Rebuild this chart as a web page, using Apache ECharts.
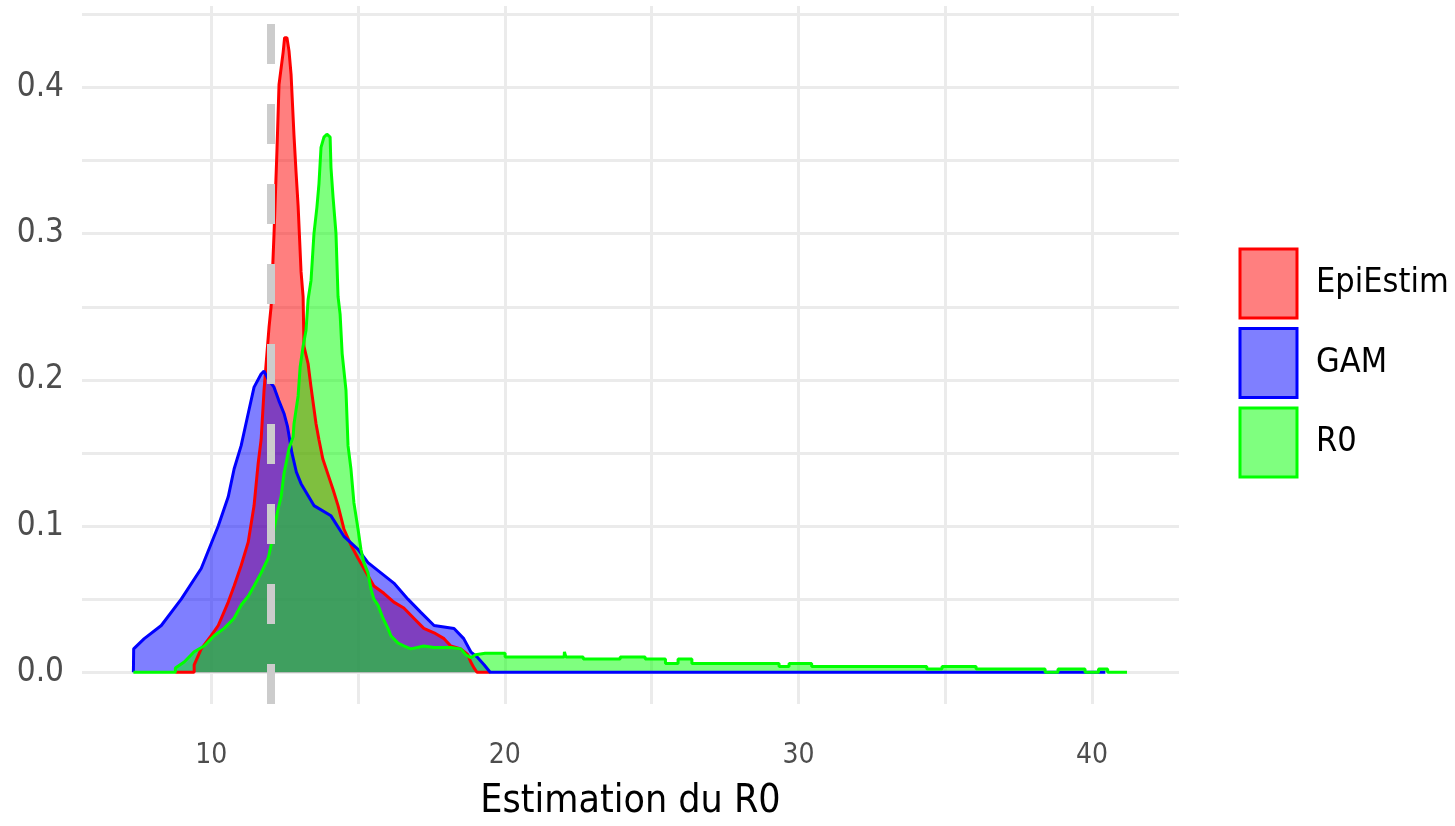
<!DOCTYPE html>
<html>
<head>
<meta charset="utf-8">
<script src="https://cdn.jsdelivr.net/npm/echarts@6/dist/echarts.min.js"></script>
<style>
  html, body { margin: 0; padding: 0; background: #fff; }
  #chart { width: 1455px; height: 826px; }
</style>
</head>
<body>
<div id="chart"></div>
<script>
// density estimates, [R0, density]
var epiEstim = [[8.78,0],[9.42,0],[9.42,0.005],[9.66,0.016],[10.0,0.025],[10.24,0.032],[10.58,0.048],[10.78,0.059],
  [11.02,0.073],[11.26,0.089],[11.46,0.114],[11.6,0.143],[11.7,0.159],[11.8,0.193],[11.87,0.211],[11.97,0.236],
  [12.04,0.25],[12.14,0.30],[12.24,0.357],[12.31,0.402],[12.45,0.424],[12.5,0.434],[12.58,0.434],[12.65,0.425],
  [12.72,0.409],[12.82,0.367],[12.89,0.342],[12.96,0.319],[13.06,0.274],[13.13,0.257],[13.16,0.223],[13.3,0.211],
  [13.4,0.195],[13.57,0.17],[13.67,0.159],[13.8,0.146],[14.0,0.134],[14.15,0.125],[14.32,0.114],[14.52,0.098],
  [14.76,0.087],[15.0,0.078],[15.34,0.066],[15.54,0.059],[15.88,0.054],[16.22,0.048],[16.56,0.044],[16.9,0.037],
  [17.24,0.03],[17.59,0.027],[17.93,0.023],[18.16,0.018],[18.5,0.016],[18.74,0.012],[18.84,0.007],[18.95,0.003],
  [19.05,0],[19.5,0]];

var gam = [[7.35,0],[7.36,0.016],[7.72,0.023],[8.3,0.032],[8.98,0.05],[9.66,0.071],[10.24,0.10],[10.58,0.12],
  [10.78,0.139],[11.02,0.155],[11.26,0.177],[11.46,0.195],[11.7,0.204],[11.8,0.206],[11.95,0.2],[12.14,0.195],
  [12.3,0.186],[12.48,0.177],[12.6,0.168],[12.75,0.15],[12.9,0.137],[13.06,0.129],[13.5,0.114],[14.08,0.107],
  [14.52,0.093],[15.0,0.084],[15.34,0.075],[15.78,0.068],[16.22,0.061],[16.7,0.05],[17.14,0.041],[17.59,0.032],
  [18.27,0.03],[18.6,0.023],[18.84,0.014],[19.08,0.01],[19.3,0.005],[19.5,0],[40.45,0]];

var r0 = [[7.35,0],[8.78,0],[8.78,0.003],[9.08,0.007],[9.42,0.014],[9.76,0.018],[10.1,0.025],[10.44,0.03],
  [10.78,0.037],[11.02,0.046],[11.26,0.052],[11.46,0.059],[11.7,0.068],[11.94,0.078],[12.04,0.087],[12.14,0.098],
  [12.28,0.112],[12.38,0.12],[12.48,0.136],[12.55,0.143],[12.65,0.153],[12.79,0.161],[12.82,0.17],[12.96,0.189],
  [13.03,0.209],[13.13,0.223],[13.23,0.234],[13.3,0.255],[13.4,0.268],[13.5,0.30],[13.6,0.318],[13.67,0.334],
  [13.74,0.359],[13.84,0.366],[13.94,0.368],[14.05,0.366],[14.08,0.345],[14.15,0.325],[14.25,0.30],[14.32,0.257],
  [14.39,0.245],[14.46,0.218],[14.59,0.193],[14.66,0.155],[14.76,0.139],[14.86,0.116],[15.0,0.098],[15.1,0.084],
  [15.2,0.075],[15.34,0.068],[15.44,0.057],[15.54,0.05],[15.68,0.046],[15.85,0.037],[16.02,0.03],[16.12,0.025],
  [16.36,0.02],[16.56,0.018],[16.8,0.016],[17.24,0.018],[17.59,0.017],[18.16,0.017],[18.5,0.016],[18.67,0.012],
  [18.84,0.01],[19.0,0.012],[19.33,0.013],[20.01,0.013],[20.01,0.0105],[22.02,0.0105],[22.03,0.014],[22.08,0.0105],
  [22.67,0.0105],[22.67,0.009],[23.93,0.009],[23.93,0.0105],[24.78,0.0105],[24.78,0.009],[25.47,0.009],
  [25.47,0.006],[25.9,0.006],[25.9,0.009],[26.37,0.009],[26.37,0.006],[29.34,0.006],[29.34,0.004],[29.68,0.004],
  [29.68,0.006],[30.45,0.006],[30.45,0.004],[34.37,0.004],[34.37,0.0022],[34.89,0.0022],[34.89,0.004],
  [36.05,0.004],[36.05,0.0022],[38.4,0.0022],[38.4,0],[38.84,0],[38.84,0.0022],[39.76,0.0022],[39.76,0],
  [40.22,0],[40.22,0.0022],[40.53,0.0022],[40.53,0],[41.19,0]];

var seriesNames = ['EpiEstim', 'GAM', 'R0'];
var seriesColors = ['#ff0000', '#0000ff', '#00ff00'];
var fillColors = ['rgba(255,0,0,0.5)', 'rgba(0,0,255,0.5)', 'rgba(0,255,0,0.5)'];
var xTicks = [10, 15, 20, 25, 30, 35, 40];
var xLabels = [10, 20, 30, 40];
var yTicks = [0, 0.05, 0.1, 0.15, 0.2, 0.25, 0.3, 0.35, 0.4, 0.45];
var yLabels = [0, 0.1, 0.2, 0.3, 0.4];
var refLine = 12.04;

var font = "'Liberation Sans Narrow', 'DejaVu Sans Condensed', sans-serif";
var chart = echarts.init(document.getElementById('chart'));

var allData = [epiEstim, gam, r0];
var series = allData.map(function (d, i) {
    return {
        name: seriesNames[i],
        type: 'line',
        data: d,
        showSymbol: false,
        symbol: 'none',
        lineStyle: { color: seriesColors[i], width: 3 },
        itemStyle: { color: seriesColors[i] },
        areaStyle: { color: seriesColors[i], opacity: 0.5 }
    };
});
series[2].markLine = {
    silent: true,
    symbol: ['none', 'none'],
    label: { show: false },
    lineStyle: { color: '#cccccc', width: 8, type: [40, 40] },
    data: [{ xAxis: refLine }]
};

chart.setOption({
    animation: false,
    backgroundColor: '#ffffff',
    grid: { left: 82, right: 276, top: 6, bottom: 118 },
    xAxis: {
        type: 'value',
        min: 5.6,
        max: 42.96,
        name: 'Estimation du R0',
        nameLocation: 'middle',
        nameGap: 78,
        nameTextStyle: { fontFamily: font, fontSize: 39, color: '#000000' },
        axisLine: { show: false },
        axisTick: { show: false, customValues: xTicks },
        axisLabel: { customValues: xLabels, fontFamily: font, fontSize: 28, color: '#4d4d4d', margin: 38 },
        splitLine: { show: true, lineStyle: { color: '#ebebeb', width: 3 } }
    },
    yAxis: {
        type: 'value',
        min: -0.0217,
        max: 0.4557,
        axisLine: { show: false },
        axisTick: { show: false, customValues: yTicks },
        axisLabel: {
            customValues: yLabels, fontFamily: font, fontSize: 33, color: '#4d4d4d', margin: 18,
            formatter: function (v) { return v.toFixed(1); }
        },
        splitLine: { show: true, lineStyle: { color: '#ebebeb', width: 3 } }
    },
    legend: {
        orient: 'vertical',
        left: 1238.5,
        top: 247.5,
        padding: 0,
        itemWidth: 57,
        itemHeight: 69,
        itemGap: 7.5,
        selectedMode: false,
        textStyle: { fontFamily: font, fontSize: 34, color: '#000000', padding: [0, 0, 0, 14] },
        data: seriesNames.map(function (n, i) {
            return {
                name: n,
                icon: 'rect',
                itemStyle: { color: fillColors[i], borderColor: seriesColors[i], borderWidth: 3 }
            };
        })
    },
    series: series
});
</script>
</body>
</html>
